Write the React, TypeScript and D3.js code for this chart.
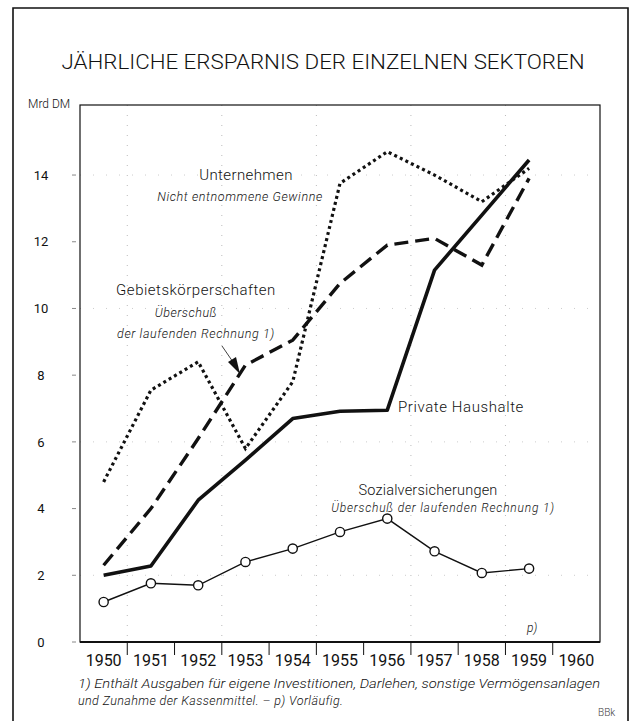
import React from "react";
import * as d3 from "d3";

const years = [1950, 1951, 1952, 1953, 1954, 1955, 1956, 1957, 1958, 1959];
const axisYears = [1950, 1951, 1952, 1953, 1954, 1955, 1956, 1957, 1958, 1959, 1960];
const unternehmen = [4.8, 7.55, 8.4, 5.8, 7.8, 13.75, 14.7, 14.0, 13.2, 14.2];
const gebiet = [2.3, 4.0, 6.1, 8.3, 9.05, 10.75, 11.9, 12.1, 11.3, 13.9];
const privat = [2.0, 2.28, 4.25, 5.45, 6.7, 6.92, 6.95, 11.15, 12.8, 14.45];
const sozial = [1.2, 1.76, 1.7, 2.4, 2.8, 3.3, 3.7, 2.72, 2.07, 2.2];
const yTicks = [0, 2, 4, 6, 8, 10, 12, 14];
const gridY = [2, 6, 10, 14];

const W = 630;
const H = 721;
const FONT = "Roboto, 'DejaVu Sans', sans-serif";

export default function App() {
  const x = d3
    .scaleBand<string>()
    .domain(axisYears.map(String))
    .range([80, 600])
    .padding(0);
  const y = d3.scaleLinear().domain([0, 16.1]).range([642, 105]);
  const cx = (yr: number) => (x(String(yr)) as number) + x.bandwidth() / 2;

  const line = d3
    .line<[number, number]>()
    .x((d) => cx(d[0]))
    .y((d) => y(d[1]));
  const pts = (vals: number[]) => years.map((yr, i) => [yr, vals[i]] as [number, number]);

  const [x0, x1] = x.range();
  const [yb, yt] = y.range();
  const boundaries = axisYears.slice(1).map((yr) => x(String(yr)) as number);

  const txt = { fontFamily: FONT, fill: "#111", fontWeight: 300 } as const;
  const axTxt = { fontFamily: FONT, fill: "#111", fontWeight: 400 } as const;

  return (
    <svg
      width={W}
      height={H}
      viewBox={`0 0 ${W} ${H}`}
      style={{ position: "absolute", left: 0, top: 0, background: "#fff" }}
    >
      <rect x={0} y={0} width={W} height={H} fill="#fff" />
      {/* outer frame */}
      <path d={`M13,${H + 2} L13,8 L628,8 L628,${H + 2}`} fill="none" stroke="#111" strokeWidth={1.6} />

      {/* title */}
      <text
        x={323}
        y={69}
        textAnchor="middle"
        {...txt}
        fontSize={20}
        textLength={523}
        lengthAdjust="spacingAndGlyphs"
      >
        JÄHRLICHE ERSPARNIS DER EINZELNEN SEKTOREN
      </text>

      {/* faint grid */}
      {boundaries
        .filter((_, i) => i % 2 === 0)
        .map((bx, i) => (
          <line key={"gv" + i} x1={bx} x2={bx} y1={yt} y2={yb} stroke="#bbb" strokeWidth={1} strokeDasharray="1,9" />
        ))}
      {gridY.map((v) => (
        <line key={"gh" + v} x1={x0} x2={x1} y1={y(v)} y2={y(v)} stroke="#ccc" strokeWidth={1} strokeDasharray="1,12" />
      ))}

      {/* plot frame */}
      <rect x={x0} y={yt} width={x1 - x0} height={yb - yt} fill="none" stroke="#111" strokeWidth={1.2} />
      <line x1={x0} x2={x1} y1={yb} y2={yb} stroke="#111" strokeWidth={1.8} />

      {/* y axis labels */}
      <text x={28} y={108} {...txt} fontSize={12}>
        Mrd DM
      </text>
      {yTicks.map((v) => (
        <g key={"yt" + v}>
          <text x={41} y={y(v)} dy="0.36em" textAnchor="middle" {...axTxt} fontSize={13}>
            {v}
          </text>
          <line x1={72} x2={76} y1={y(v)} y2={y(v)} stroke="#888" strokeWidth={1} />
        </g>
      ))}

      {/* x axis ticks and labels */}
      {boundaries.map((bx, i) => (
        <line key={"xt" + i} x1={bx} x2={bx} y1={yb} y2={yb + 13} stroke="#111" strokeWidth={1} />
      ))}
      {axisYears.map((yr) => (
        <text key={"xl" + yr} x={cx(yr)} y={666} textAnchor="middle" {...axTxt} fontSize={16}>
          {yr}
        </text>
      ))}

      {/* series */}
      <path d={line(pts(unternehmen)) || ""} fill="none" stroke="#111" strokeWidth={3.2} strokeDasharray="3,3.2" />
      <path d={line(pts(gebiet)) || ""} fill="none" stroke="#111" strokeWidth={3.4} strokeDasharray="14,7" />
      <path d={line(pts(privat)) || ""} fill="none" stroke="#111" strokeWidth={3.6} strokeLinejoin="round" />
      <path d={line(pts(sozial)) || ""} fill="none" stroke="#111" strokeWidth={1.4} />
      {years.map((yr, i) => (
        <circle key={"c" + yr} cx={cx(yr)} cy={y(sozial[i])} r={4.6} fill="#fff" stroke="#111" strokeWidth={1.4} />
      ))}

      {/* annotations */}
      <text x={246} y={180} textAnchor="middle" {...txt} fontSize={15} letterSpacing={0.4}>
        Unternehmen
      </text>
      <text x={240} y={201} textAnchor="middle" {...txt} fontSize={12.5} letterSpacing={0.6} fontStyle="italic">
        Nicht entnommene Gewinne
      </text>
      <text x={196} y={295} textAnchor="middle" {...txt} fontSize={15} letterSpacing={0.5}>
        Gebietskörperschaften
      </text>
      <text x={186} y={317} textAnchor="middle" {...txt} fontSize={12.5} letterSpacing={0.5} fontStyle="italic">
        Überschuß
      </text>
      <text x={196} y={338} textAnchor="middle" {...txt} fontSize={12.5} letterSpacing={0.6} fontStyle="italic">
        der laufenden Rechnung 1)
      </text>
      <line x1={222} y1={346} x2={233} y2={362} stroke="#111" strokeWidth={0.8} />
      <path d="M240,374 L228,362 L236,357 Z" fill="#111" />

      <text x={398} y={412} {...txt} fontSize={15} letterSpacing={0.6}>
        Private Haushalte
      </text>
      <text x={428} y={495} textAnchor="middle" {...txt} fontSize={14.5} letterSpacing={0.2}>
        Sozialversicherungen
      </text>
      <text x={443} y={512} textAnchor="middle" {...txt} fontSize={12} letterSpacing={0.8} fontStyle="italic">
        Überschuß der laufenden Rechnung 1)
      </text>
      <text x={527} y={632} {...txt} fontSize={12} fontStyle="italic">
        p)
      </text>

      {/* footnote */}
      <text x={78} y={688} {...txt} fontSize={12.5} fontStyle="italic" textLength={522} lengthAdjust="spacingAndGlyphs">
        1) Enthält Ausgaben für eigene Investitionen, Darlehen, sonstige Vermögensanlagen
      </text>
      <text x={78} y={705} {...txt} fontSize={12.5} letterSpacing={0.4} fontStyle="italic">
        und Zunahme der Kassenmittel. – p) Vorläufig.
      </text>
      <text x={598} y={716} {...txt} fontSize={10} fill="#444">
        BBk
      </text>
    </svg>
  );
}
